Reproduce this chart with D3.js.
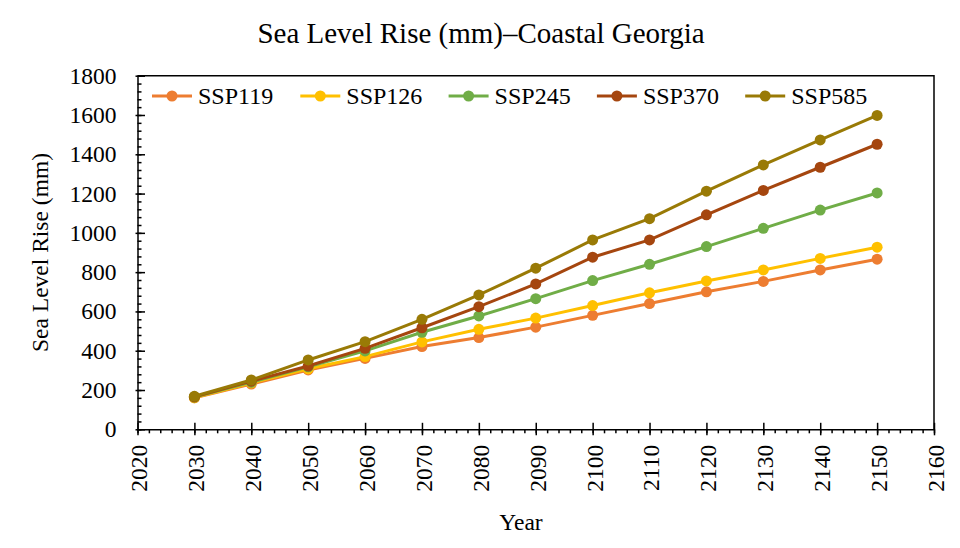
<!DOCTYPE html>
<html>
<head>
    <meta charset="UTF-8">
    <title>Sea Level Rise - Coastal Georgia</title>
    <script src="https://d3js.org/d3.v7.min.js"></script>
    <style>
        body { margin: 0; background: #fff; }
        svg text { font-family: "Liberation Serif", "Times New Roman", serif !important; fill: #000; }
    </style>
</head>
<body>
    <script>
        const years = [2030, 2040, 2050, 2060, 2070, 2080, 2090, 2100, 2110, 2120, 2130, 2140, 2150];
        const seriesNames = ["SSP119", "SSP126", "SSP245", "SSP370", "SSP585"];
        const seriesColors = ["#ED7D31", "#FFC000", "#70AD47", "#A5460F", "#997A06"];
        const ssp119 = [160, 230, 302, 361, 421, 467, 520, 580, 640, 700, 753, 811, 866];
        const ssp126 = [161, 236, 308, 370, 445, 509, 566, 630, 695, 755, 811, 870, 927];
        const ssp245 = [164, 240, 318, 399, 494, 577, 665, 757, 840, 930, 1023, 1116, 1203];
        const ssp370 = [165, 245, 322, 412, 517, 624, 740, 876, 964, 1092, 1216, 1334, 1451];
        const ssp585 = [168, 251, 353, 446, 560, 684, 820, 964, 1072, 1212, 1346, 1473, 1598];
        const allSeries = [ssp119, ssp126, ssp245, ssp370, ssp585];
        const xTicks = d3.range(2020, 2161, 10);
        const yTicks = d3.range(0, 1801, 200);

        const width = 960, height = 548;
        const margin = { left: 137.5, right: 26, top: 75.7, bottom: 118.7 };
        const innerW = width - margin.left - margin.right;
        const innerH = height - margin.top - margin.bottom;
        const serif = '"Liberation Serif", "Times New Roman", serif';

        const x = d3.scaleLinear().domain([2020, 2160]).range([0, innerW]);
        const y = d3.scaleLinear().domain([0, 1800]).range([innerH, 0]);

        const svg = d3.select("body").append("svg")
            .attr("width", width).attr("height", height)
            .attr("font-family", serif);

        svg.append("text")
            .attr("x", 481).attr("y", 43)
            .attr("text-anchor", "middle")
            .style("font-size", "29px")
            .text("Sea Level Rise (mm)\u2013Coastal Georgia");

        const g = svg.append("g")
            .attr("transform", `translate(${margin.left},${margin.top})`);

        // plot box (top and right edges)
        g.append("path")
            .attr("d", `M0,0H${innerW}V${innerH}`)
            .attr("fill", "none").attr("stroke", "#000").attr("stroke-width", 1.5);

        // minor ticks
        g.append("g")
            .attr("transform", `translate(0,${innerH})`)
            .call(d3.axisBottom(x).tickValues(d3.range(2020, 2161, 2)).tickSize(4).tickFormat(""))
            .call(a => a.select(".domain").remove())
            .selectAll("line").attr("stroke-width", 1.5);
        g.append("g")
            .call(d3.axisRight(y).tickValues(d3.range(0, 1801, 40)).tickSize(4).tickFormat(""))
            .call(a => a.select(".domain").remove())
            .selectAll("line").attr("stroke-width", 1.5);

        // x axis
        const xAxis = g.append("g")
            .attr("transform", `translate(0,${innerH})`)
            .call(d3.axisBottom(x).tickValues(xTicks).tickFormat(d3.format("d")).tickSize(6).tickSizeOuter(0));
        xAxis.attr("font-family", serif);
        xAxis.select(".domain").attr("stroke-width", 1.5);
        xAxis.selectAll(".tick line").attr("y1", -6.5).attr("stroke-width", 1.5);
        xAxis.selectAll(".tick text")
            .style("font-size", "23.5px")
            .style("font-family", serif)
            .attr("transform", "rotate(-90)")
            .attr("text-anchor", "end")
            .attr("x", -15.5).attr("y", 0).attr("dy", "0.4em");

        // y axis
        const yAxis = g.append("g")
            .call(d3.axisLeft(y).tickValues(yTicks).tickFormat(d3.format("d")).tickSize(2).tickSizeOuter(0));
        yAxis.attr("font-family", serif);
        yAxis.select(".domain").attr("stroke-width", 1.5);
        yAxis.selectAll(".tick line").attr("x2", 7.5).attr("x1", -2).attr("stroke-width", 1.5);
        yAxis.selectAll(".tick text")
            .style("font-size", "23.5px")
            .style("font-family", serif)
            .attr("x", -21);

        svg.append("text")
            .attr("x", 521).attr("y", 530)
            .attr("text-anchor", "middle")
            .style("font-size", "23.5px")
            .text("Year");

        svg.append("text")
            .attr("transform", `translate(48,${margin.top + innerH / 2}) rotate(-90)`)
            .attr("text-anchor", "middle")
            .style("font-size", "23.5px")
            .text("Sea Level Rise (mm)");

        const line = d3.line().x((d, i) => x(years[i])).y(d => y(d));

        const series = g.selectAll(".series")
            .data(allSeries).enter().append("g")
            .attr("class", "series");
        series.append("path")
            .attr("d", d => line(d))
            .attr("fill", "none")
            .attr("stroke", (d, i) => seriesColors[i])
            .attr("stroke-width", 3);
        series.each(function (d, i) {
            d3.select(this).selectAll("circle")
                .data(d).enter().append("circle")
                .attr("cx", (v, j) => x(years[j]))
                .attr("cy", v => y(v))
                .attr("r", 5.5)
                .attr("fill", seriesColors[i]);
        });

        // legend
        const legend = svg.append("g").attr("transform", "translate(152,96)");
        const item = legend.selectAll("g")
            .data(seriesNames).enter().append("g")
            .attr("transform", (d, i) => `translate(${i * 148.3},0)`);
        item.append("line")
            .attr("x1", 0).attr("x2", 40)
            .attr("stroke", (d, i) => seriesColors[i]).attr("stroke-width", 3);
        item.append("circle")
            .attr("cx", 20).attr("r", 5.5)
            .attr("fill", (d, i) => seriesColors[i]);
        item.append("text")
            .attr("x", 46).attr("dy", "0.35em")
            .style("font-size", "24px")
            .text(d => d);
    </script>
</body>
</html>
